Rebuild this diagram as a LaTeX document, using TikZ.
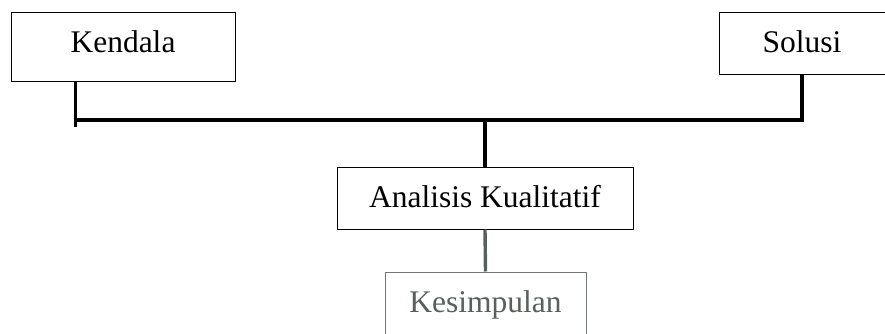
\documentclass[tikz,border=0pt]{standalone}
\usepackage{fontspec}
\setmainfont{Liberation Serif}
\usetikzlibrary{positioning}
\definecolor{markgray}{RGB}{88,96,92}

\begin{document}
\begin{tikzpicture}[x=1pt, y=-1pt,
  font=\fontsize{31.5}{38}\selectfont,
  box/.style={draw, line width=1pt, fill=white, inner sep=0pt, align=center, text height=22pt, text depth=4pt},
  boxg/.style={box, draw=markgray!85, text=markgray},
  conn/.style={line width=3.4pt},
  conng/.style={conn, draw=markgray}]
\clip (0,0) rectangle (885,334);

% ---- boxes ----
\node[box, minimum width=224pt, minimum height=69pt, text depth=11pt] (kendala) at (123,47.5) {Kendala};
\node[box, minimum width=166pt, minimum height=62pt] (solusi) at (802,44) {Solusi};
\node[box, minimum width=296pt, minimum height=62pt] (analisis) at (485,198) {Analisis Kualitatif};
\node[boxg, minimum width=201pt, minimum height=62pt] (kesimpulan) at (485.5,303) {Kesimpulan};

% ---- bus joining the two top boxes ----
\coordinate (bus) at (485,120);
\coordinate (kfoot) at (75.5,127);
\draw[conn] (kendala.south -| kfoot) -- (kfoot);
\draw[conn] (kfoot |- bus) -- (solusi.south |- bus) -- (solusi.south);
\draw[conn] (bus) -- (analisis.north);
\draw[conng] (analisis.south) -- (kesimpulan.north);
\end{tikzpicture}
\end{document}
